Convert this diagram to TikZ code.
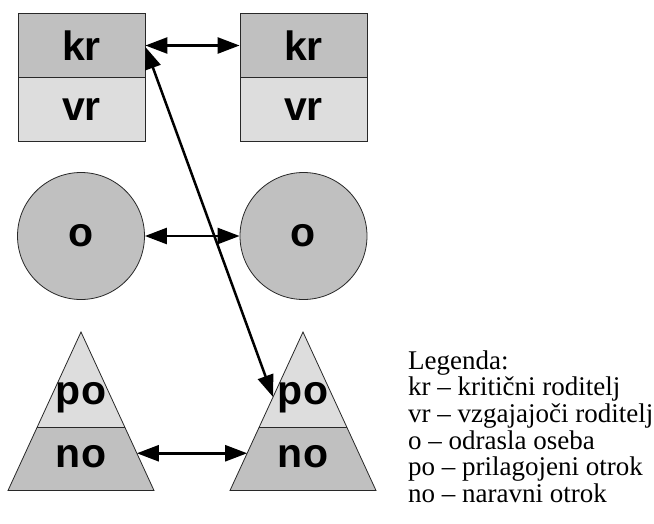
\documentclass[tikz,border=0pt]{standalone}
\usepackage{fontspec}
\setmainfont{Liberation Serif}
\newfontfamily\labelfont{Liberation Sans}
\usetikzlibrary{arrows.meta,calc}
\definecolor{darkfill}{RGB}{192,192,192}
\definecolor{lightfill}{RGB}{221,221,221}
\definecolor{edge}{RGB}{40,40,40}
\tikzset{
  shapeedge/.style={draw=edge, line width=0.8pt},
  lbl/.style={font=\labelfont\bfseries\fontsize{41}{41}\selectfont},
  boxdark/.style={shapeedge, fill=darkfill, rectangle, minimum width=127pt, minimum height=63.5pt, inner sep=0pt, lbl},
  boxlight/.style={shapeedge, fill=lightfill, rectangle, minimum width=127pt, minimum height=63.5pt, inner sep=0pt, lbl},
  person/.style={shapeedge, fill=darkfill, circle, minimum size=127pt, inner sep=0pt, lbl},
  tritext/.style={inner sep=0pt, lbl},
  link/.style={line width=2.5pt, {Triangle[length=22pt,width=16pt]}-{Triangle[length=22pt,width=16pt]}},
  legendline/.style={anchor=base west, inner sep=0pt, font=\fontsize{27}{27}\selectfont}
}
\begin{document}
\begin{tikzpicture}[x=1pt,y=-1pt]
\useasboundingbox (0,0) rectangle (654,523);

% parent boxes
\node[boxdark]  (kr1) at (81.5,45.5)  {kr};
\node[boxlight] (vr1) at (81.5,109.5) {vr};
\node[boxdark]  (kr2) at (303.5,45.5)  {kr};
\node[boxlight] (vr2) at (303.5,109.5) {vr};

% adult circles
\node[person] (o1) at (81,236)    {o};
\node[person] (o2) at (303.5,236) {o};

% child triangles
\coordinate (apex1) at (81,332);
\coordinate (bl1) at (8,490.5);
\coordinate (br1) at (154,490.5);
\coordinate (apex2) at (303,332);
\coordinate (bl2) at (230,490.5);
\coordinate (br2) at (376,490.5);
\foreach \t in {1,2}{
  \fill[lightfill] (apex\t) -- ($(apex\t)!0.6!(bl\t)$) -- ($(apex\t)!0.6!(br\t)$) -- cycle;
  \fill[darkfill] ($(apex\t)!0.6!(bl\t)$) -- (bl\t) -- (br\t) -- ($(apex\t)!0.6!(br\t)$) -- cycle;
  \draw[shapeedge] ($(apex\t)!0.6!(bl\t)$) -- ($(apex\t)!0.6!(br\t)$);
  \draw[shapeedge, line join=miter] (apex\t) -- (bl\t) -- (br\t) -- cycle;
}
\node[tritext] (po1) at (81,398)  {po};
\node[tritext] (no1) at (81,457)  {no};
\node[tritext] (po2) at (303,398) {po};
\node[tritext] (no2) at (303,457) {no};

% connector end points on the triangle sides
\coordinate (no1e) at ($(apex1)!0.765!(br1)$);
\coordinate (no2w) at ($(apex2)!0.765!(bl2)$);
\coordinate (po2w) at ($(apex2)!0.41!(bl2)$);
\coordinate (kr1c) at ($(kr1.east)+(0,1.5)$);

% connectors
\draw[link] (kr1.east) -- (kr2.west);
\draw[link] (o1.east) -- (o2.west);
\draw[link] (no1e) -- (no2w);
\draw[link] (kr1c) -- (po2w);

% legend
\node[legendline] (leg0) at (408,369)   {Legenda:};
\node[legendline] (leg1) at (408,395.7) {kr – kritični roditelj};
\node[legendline] (leg2) at (408,422.4) {vr – vzgajajoči roditelj};
\node[legendline] (leg3) at (408,449.1) {o – odrasla oseba};
\node[legendline] (leg4) at (408,475.8) {po – prilagojeni otrok};
\node[legendline] (leg5) at (408,502.5) {no – naravni otrok};
\end{tikzpicture}
\end{document}
